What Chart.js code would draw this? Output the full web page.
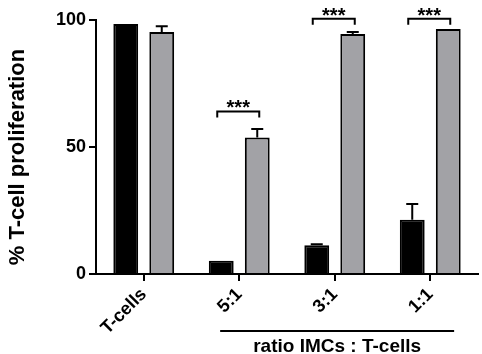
<!DOCTYPE html>
<html>
<head>
<meta charset="utf-8">
<script src="https://cdn.jsdelivr.net/npm/chart.js@4.4.0/dist/chart.umd.min.js"></script>
<style>
    body { margin: 0; background: #fff; }
</style>
</head>
<body>
<canvas id="prolif-chart" width="482" height="354"></canvas>
<script>
var categories = ['T-cells', '5:1', '3:1', '1:1'];
var blackValues = [98.4, 5.2, 11.3, 21.4];
var blackErrors = [0, 0, 0.4, 6.2];
var greyValues = [95.3, 53.7, 94.5, 96.5];
var greyErrors = [2.2, 3.4, 0.8, 0];
var sigLabels = ['', '***', '***', '***'];
var sigLevels = [null, 64, 100.5, 100.5];
var yTicks = [0, 50, 100];
var yTitle = '% T-cell proliferation';
var groupLabel = 'ratio IMCs : T-cells';

var FONT = '"Liberation Sans", Arial, sans-serif';

// error whiskers, significance brackets, group line and y title
var extras = {
    id: 'extras',
    afterDraw: function (chart) {
        var ctx = chart.ctx;
        var x = chart.scales.x, y = chart.scales.y;
        var area = chart.chartArea;
        ctx.save();
        ctx.strokeStyle = '#000';
        ctx.fillStyle = '#000';
        ctx.lineWidth = 2;

        chart.data.datasets.forEach(function (ds, di) {
            var meta = chart.getDatasetMeta(di);
            meta.data.forEach(function (bar, i) {
                var err = ds.errors[i];
                if (!err) return;
                var top = y.getPixelForValue(ds.data[i] + err);
                ctx.beginPath();
                ctx.moveTo(bar.x, bar.y);
                ctx.lineTo(bar.x, top);
                ctx.moveTo(bar.x - 6, top);
                ctx.lineTo(bar.x + 6, top);
                ctx.stroke();
            });
        });

        var black = chart.getDatasetMeta(0), grey = chart.getDatasetMeta(1);
        ctx.font = 'bold 20px ' + FONT;
        ctx.textAlign = 'center';
        ctx.textBaseline = 'alphabetic';
        sigLevels.forEach(function (lvl, i) {
            if (lvl === null) return;
            var x1 = black.data[i].x - 4, x2 = grey.data[i].x + 2;
            var yb = y.getPixelForValue(lvl);
            ctx.beginPath();
            ctx.moveTo(x1, yb + 6);
            ctx.lineTo(x1, yb);
            ctx.lineTo(x2, yb);
            ctx.lineTo(x2, yb + 6);
            ctx.stroke();
            ctx.fillText(sigLabels[i], (x1 + x2) / 2, yb + 3);
        });

        // group line under the ratio labels
        var gy = area.bottom + 57;
        ctx.beginPath();
        ctx.moveTo(x.getPixelForValue(0.8), gy);
        ctx.lineTo(x.getPixelForValue(3.25), gy);
        ctx.stroke();
        ctx.font = 'bold 19px ' + FONT;
        ctx.textBaseline = 'middle';
        ctx.fillText(groupLabel, (x.getPixelForValue(0.8) + x.getPixelForValue(3.25)) / 2, gy + 16);

        // y title
        ctx.translate(18, 157);
        ctx.rotate(-Math.PI / 2);
        ctx.font = 'bold 22px ' + FONT;
        ctx.fillText(yTitle, 0, 0);
        ctx.restore();
    }
};

new Chart(document.getElementById('prolif-chart'), {
    type: 'bar',
    data: {
        labels: categories,
        datasets: [{
            data: blackValues,
            errors: blackErrors,
            backgroundColor: '#000',
            borderColor: '#000',
            borderWidth: 2
        }, {
            data: greyValues,
            errors: greyErrors,
            backgroundColor: '#a2a2a6',
            borderColor: '#000',
            borderWidth: 2
        }]
    },
    options: {
        responsive: false,
        animation: false,
        categoryPercentage: 0.754,
        barPercentage: 0.69,
        layout: { padding: { top: 20, right: 4, left: 0, bottom: 0 } },
        plugins: {
            legend: { display: false },
            tooltip: { enabled: false }
        },
        scales: {
            x: {
                afterFit: function (scale) { scale.height = 80; },
                grid: { offset: false, drawOnChartArea: false, tickLength: 7, color: '#000', lineWidth: 2 },
                border: { color: '#000', width: 2 },
                ticks: {
                    color: '#000',
                    minRotation: 45,
                    maxRotation: 45,
                    font: { family: FONT, size: 18, weight: 'bold' }
                }
            },
            y: {
                min: 0,
                max: 100,
                afterFit: function (scale) { scale.width = 96; },
                afterBuildTicks: function (scale) {
                    scale.ticks = yTicks.map(function (v) { return { value: v }; });
                },
                grid: { drawOnChartArea: false, tickLength: 7, color: '#000', lineWidth: 2 },
                border: { color: '#000', width: 2 },
                ticks: {
                    color: '#000',
                    padding: 3,
                    font: { family: FONT, size: 18, weight: 'bold' }
                }
            }
        }
    },
    plugins: [extras]
});
</script>
</body>
</html>
